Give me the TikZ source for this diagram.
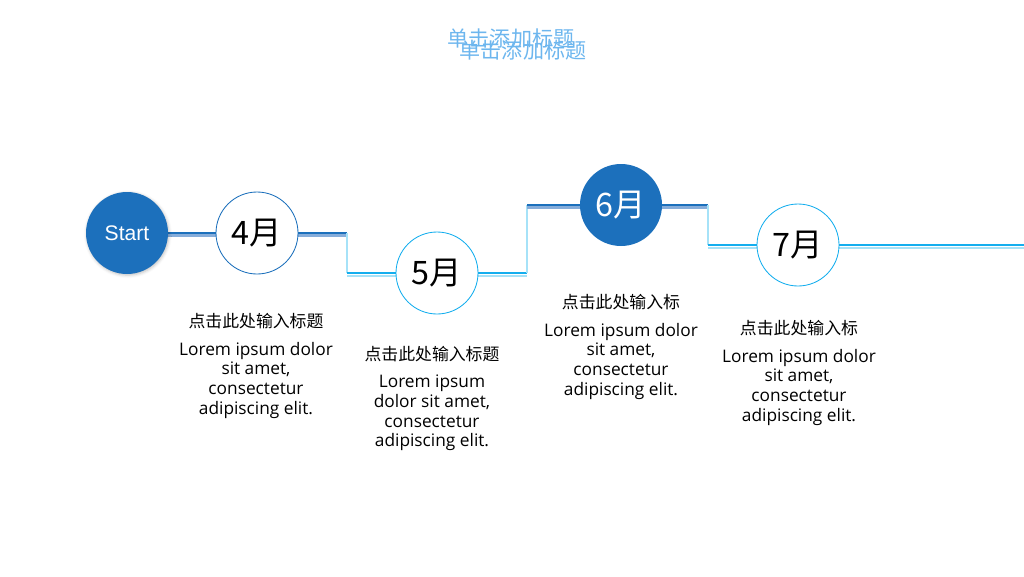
\documentclass[tikz,border=0pt]{standalone}
\usepackage{fontspec}
\setmainfont{Open Sans}
\newfontfamily\cjk{Noto Sans CJK SC}
\newfontfamily\arialfont{Liberation Sans}
\usetikzlibrary{positioning,shadows.blur,backgrounds}
\definecolor{deepblue}{HTML}{1C70BC}
\definecolor{paleblue}{HTML}{86ADDA}
\definecolor{skyblue}{HTML}{14AEEE}
\definecolor{paleaqua}{HTML}{A6E2F8}
\definecolor{titleblue}{HTML}{6DB6EE}

\begin{document}
\begin{tikzpicture}[x=0.25mm, y=-0.25mm,
    month/.style={
        circle,
        inner sep=0pt,
        minimum size=20.5mm,
        font=\cjk\fontsize{23}{27}\selectfont,
    },
    monthdark/.style={month, fill=deepblue, text=white},
    monthlight/.style={month, fill=white, draw=#1, line width=0.6pt},
    darkband/.style={draw=deepblue, line width=1.7pt,
        preaction={draw=paleblue, line width=2pt, transform canvas={yshift=-1.8pt}}},
    skyband/.style={draw=skyblue, line width=1.7pt,
        preaction={draw=paleaqua, line width=1pt, transform canvas={yshift=-2.1pt}}},
    riser/.style={draw=paleaqua, line width=0.8pt},
    heading/.style={font=\cjk\fontsize{12}{14}\selectfont, inner sep=1pt},
    body/.style={font=\fontsize{12.3}{14}\selectfont, align=center, inner sep=1pt},
    ]
    \useasboundingbox (0,0) rectangle (1024,576);

    % title
    \node[text=titleblue, font=\cjk\fontsize{15}{18}\selectfont] (title1) at (511,38) {单击添加标题};
    \node[text=titleblue, font=\cjk\fontsize{15}{18}\selectfont] (title2) at (523,50) {单击添加标题};

    % circles
    \node[month, fill=deepblue, text=white, font=\arialfont\fontsize{15}{18}\selectfont,
          blur shadow={shadow xshift=0.6pt, shadow yshift=-0.8pt, shadow blur steps=4, shadow opacity=25}]
          (start) at (127,233) {Start};
    \node[monthlight=deepblue] (apr) at (257,233) {4月};
    \node[monthlight=skyblue] (may) at (437,273) {5月};
    \node[monthdark] (jun) at (621,205) {6月};
    \node[monthlight=skyblue] (jul) at (798,245) {7月};

    % corners of the path
    \coordinate (c1) at (347,233);
    \coordinate (c2) at (347,273);
    \coordinate (c3) at (527,273);
    \coordinate (c4) at (527,205);
    \coordinate (c5) at (708,205);
    \coordinate (c6) at (708,245);
    \coordinate (tail) at (1024,245);

    \begin{pgfonlayer}{background}
        \draw[darkband] (start) -- (apr) -- (c1);
        \draw[riser] (c1) -- (c2);
        \draw[skyband] (c2) -- (may) -- (c3);
        \draw[riser] (c3) -- (c4);
        \draw[darkband] (c4) -- (jun) -- (c5);
        \draw[riser] (c5) -- (c6);
        \draw[skyband] (c6) -- (jul) -- (tail);
    \end{pgfonlayer}

    % texts
    \node[heading] (h1) at (256,321) {点击此处输入标题};
    \node[body, below=7pt of h1] (b1) {Lorem ipsum dolor\\sit amet,\\consectetur\\adipiscing elit.};
    \node[heading] (h2) at (432,354) {点击此处输入标题};
    \node[body, below=7pt of h2] (b2) {Lorem ipsum\\dolor sit amet,\\consectetur\\adipiscing elit.};
    \node[heading] (h3) at (621,302) {点击此处输入标};
    \node[body, below=7pt of h3] (b3) {Lorem ipsum dolor\\sit amet,\\consectetur\\adipiscing elit.};
    \node[heading] (h4) at (799,328) {点击此处输入标};
    \node[body, below=7pt of h4] (b4) {Lorem ipsum dolor\\sit amet,\\consectetur\\adipiscing elit.};
\end{tikzpicture}
\end{document}
